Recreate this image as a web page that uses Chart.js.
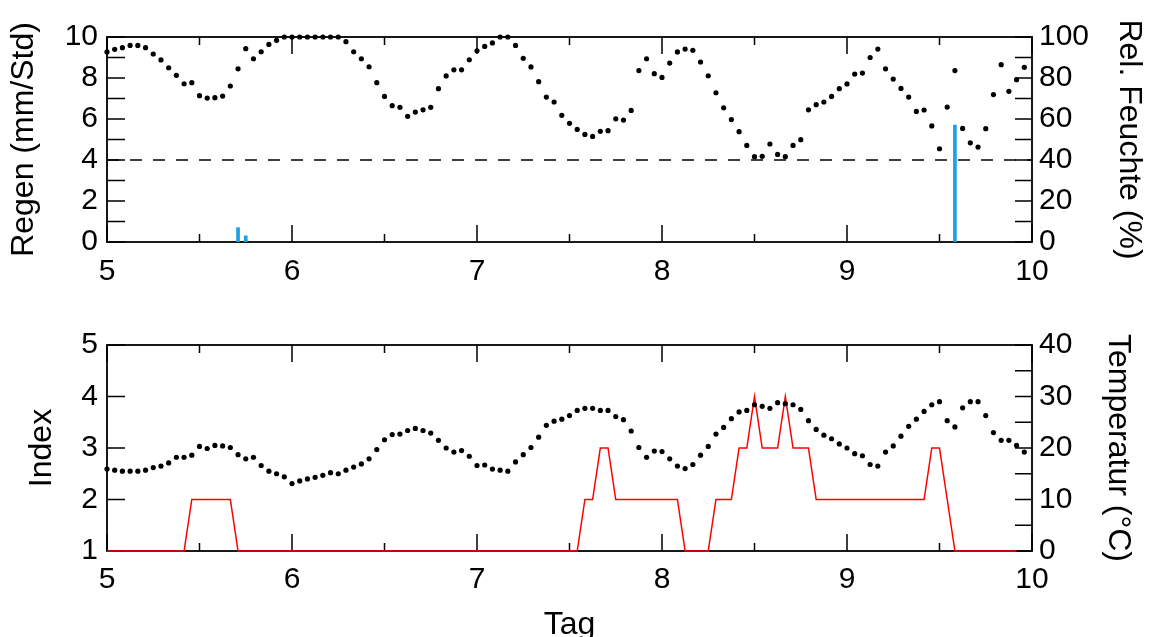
<!DOCTYPE html>
<html><head><meta charset="utf-8">
<script src="https://cdn.jsdelivr.net/npm/chart.js@4/dist/chart.umd.min.js"></script>
<style>
html,body{margin:0;padding:0;background:#fff;overflow:hidden;}
#wrap{position:relative;width:1152px;height:637px;}
.c{position:absolute;left:0;width:1152px;}
</style></head><body>
<div id="wrap">
<div class="c" style="top:0;height:300px"><canvas id="topChart"></canvas></div>
<div class="c" style="top:300px;height:337px"><canvas id="botChart"></canvas></div>
</div>
<script>
// ---- data (hourly values starting at day 5) ----
const startDay = 5;
const hoursPerDay = 24;

const humidity = [
  92.7, 94.0, 94.8, 95.9, 95.9, 94.8, 91.7, 88.8, 85.0, 81.3, 77.2, 77.7,
  71.4, 70.2, 70.4, 71.2, 76.1, 84.5, 94.3, 89.4, 92.8, 96.4, 98.4, 100,
  100, 100, 100, 100, 100, 100, 100, 97.7, 92.8, 89.4, 85.5, 77.7,
  71.0, 66.5, 65.7, 61.3, 63.4, 64.5, 65.7, 74.8, 81.0, 84.0, 84.0, 88.9,
  93.3, 95.4, 97.1, 100, 100, 95.9, 89.6, 85.4, 78.2, 70.7, 68.3, 61.8,
  57.9, 54.9, 52.5, 51.5, 54.0, 54.3, 60.1, 59.5, 64.2, 83.6, 89.4, 82.1,
  80.3, 87.3, 92.7, 94.1, 93.5, 87.8, 81.1, 72.8, 65.5, 59.7, 53.8, 47.1,
  41.6, 41.8, 47.8, 42.7, 41.6, 47.1, 49.9, 64.5, 67.0, 68.3, 71.0, 74.8,
  77.1, 81.9, 82.4, 90.0, 94.1, 84.5, 79.5, 74.9, 70.7, 63.7, 64.4, 56.6,
  45.5, 65.8, 83.6, 55.4, 48.4, 46.3, 55.3, 71.9, 86.5, 73.5, 79.2, 85.2
];

const temperature = [
  15.9, 15.7, 15.5, 15.5, 15.5, 15.7, 16.2, 16.5, 17.1, 18.2, 18.2, 18.6,
  20.3, 19.9, 20.5, 20.4, 20.1, 18.7, 17.9, 18.2, 16.6, 15.5, 15.0, 14.4,
  13.1, 13.6, 14.0, 14.3, 14.7, 15.2, 15.0, 15.7, 16.3, 16.9, 17.9, 19.7,
  21.6, 22.6, 22.7, 23.4, 23.8, 23.4, 22.9, 21.5, 20.0, 19.2, 19.5, 18.4,
  16.6, 16.7, 15.9, 15.7, 15.5, 17.3, 18.7, 20.1, 22.1, 24.4, 25.2, 25.6,
  26.3, 27.3, 27.7, 27.7, 27.3, 27.3, 26.1, 25.5, 23.3, 20.1, 18.2, 19.4,
  19.3, 17.9, 16.5, 16.0, 16.8, 18.6, 20.3, 22.7, 24.0, 25.7, 27.0, 27.3,
  28.4, 28.1, 27.7, 28.8, 28.6, 28.4, 27.5, 25.3, 23.6, 22.5, 21.8, 20.8,
  20.0, 18.9, 18.5, 16.8, 16.5, 19.2, 20.4, 22.3, 24.2, 25.6, 27.1, 28.4,
  29.0, 25.3, 24.1, 27.8, 29.0, 29.0, 26.3, 23.0, 21.5, 21.5, 20.5, 19.2
];

const indexValues = [
  1, 1, 1, 1, 1, 1, 1, 1, 1, 1, 1, 2,
  2, 2, 2, 2, 2, 1, 1, 1, 1, 1, 1, 1,
  1, 1, 1, 1, 1, 1, 1, 1, 1, 1, 1, 1,
  1, 1, 1, 1, 1, 1, 1, 1, 1, 1, 1, 1,
  1, 1, 1, 1, 1, 1, 1, 1, 1, 1, 1, 1,
  1, 1, 2, 2, 3, 3, 2, 2, 2, 2, 2, 2,
  2, 2, 2, 1, 1, 1, 1, 2, 2, 2, 3, 3,
  4, 3, 3, 3, 4, 3, 3, 3, 2, 2, 2, 2,
  2, 2, 2, 2, 2, 2, 2, 2, 2, 2, 2, 3,
  3, 2, 1, 1, 1, 1, 1, 1, 1, 1, 1
];

const rainHours = [17, 18, 110];
const rainValues = [0.7, 0.3, 5.7];
const rainThreshold = 4;

const xMajorTicks = [5, 6, 7, 8, 9, 10];
const xMinorTicks = [5.5, 6.5, 7.5, 8.5, 9.5];
const rainTicks = [0, 1, 2, 3, 4, 5, 6, 7, 8, 9, 10];
const humidityTicks = [0, 10, 20, 30, 40, 50, 60, 70, 80, 90, 100];
const indexTicks = [1, 2, 3, 4, 5];
const tempTicks = [0, 5, 10, 15, 20, 25, 30, 35, 40];

// ---- helpers ----
const toPoints = arr => arr.map((v, i) => ({x: startDay + i / hoursPerDay, y: v}));

Chart.defaults.font.family = '"Liberation Sans", Arial, sans-serif';
Chart.defaults.font.size = 30;
Chart.defaults.color = '#000';

const frameTicks = {
  id: 'frameTicks',
  beforeDatasetsDraw(chart, args, o) {
    const {ctx, chartArea: a} = chart;
    const xs = chart.scales.x, yl = chart.scales.y, yr = chart.scales.y2;
    ctx.save();
    ctx.strokeStyle = '#000';
    ctx.lineWidth = 1.5;
    ctx.beginPath();
    const seg = (x1, y1, x2, y2) => { ctx.moveTo(x1, y1); ctx.lineTo(x2, y2); };
    o.xMajor.forEach(v => { const p = xs.getPixelForValue(v); seg(p, a.bottom, p, a.bottom - 17); seg(p, a.top, p, a.top + 17); });
    o.xMinor.forEach(v => { const p = xs.getPixelForValue(v); seg(p, a.bottom, p, a.bottom - 8); seg(p, a.top, p, a.top + 8); });
    o.left.forEach(v => { const p = yl.getPixelForValue(v); seg(a.left, p, a.left + 18, p); });
    o.right.forEach(v => { const p = yr.getPixelForValue(v); seg(a.right, p, a.right - 17, p); });
    ctx.stroke();
    ctx.lineWidth = 1.8;
    ctx.strokeRect(a.left, a.top, a.right - a.left, a.bottom - a.top);
    ctx.restore();
  }
};

function xScale(height, pad) {
  return {
    type: 'linear', position: 'bottom', min: 5, max: 10, offset: false,
    grid: {display: false, drawTicks: false, offset: false}, border: {display: false},
    ticks: {stepSize: 1, padding: pad, autoSkip: false, maxRotation: 0},
    afterFit: s => { s.height = height; }
  };
}
function yScale(pos, min, max, step, width, pad, title, tpad) {
  return {
    type: 'linear', position: pos, min, max,
    grid: {display: false, drawTicks: false}, border: {display: false},
    ticks: {stepSize: step, padding: pad},
    title: {display: true, text: title, font: {size: 32, lineHeight: 1}, padding: {top: tpad, bottom: 0}},
    afterFit: s => { s.width = width; }
  };
}

const common = {
  responsive: true, maintainAspectRatio: false, animation: false, events: [],
  plugins: {legend: {display: false}, tooltip: {enabled: false}}
};

// ---- top chart ----
new Chart(document.getElementById('topChart'), {
  type: 'scatter',
  data: {
    datasets: [
      {
        type: 'bar', label: 'Regen', yAxisID: 'y',
        data: rainHours.map((h, i) => ({x: startDay + h / hoursPerDay, y: rainValues[i]})),
        backgroundColor: '#1aa0e3', barThickness: 3, grouped: false, order: 3
      },
      {
        type: 'line', label: 'Schwelle', yAxisID: 'y',
        data: [{x: 5, y: rainThreshold}, {x: 10, y: rainThreshold}],
        borderColor: '#000', borderWidth: 1.6, borderDash: [12, 11], pointRadius: 0, order: 2
      },
      {
        label: 'Rel. Feuchte', yAxisID: 'y2', data: toPoints(humidity),
        pointRadius: 2.6, pointBackgroundColor: '#000', pointBorderWidth: 0, clip: false, order: 1
      }
    ]
  },
  options: Object.assign({}, common, {
    layout: {padding: {top: 37, left: 0, right: 0, bottom: 0}},
    scales: {
      x: xScale(58, 12),
      y: yScale('left', 0, 10, 2, 107, 9, 'Regen (mm/Std)', 8),
      y2: yScale('right', 0, 100, 20, 120, 7, 'Rel. Feuchte (%)', 7)
    },
    plugins: Object.assign({}, common.plugins, {
      frameTicks: {xMajor: xMajorTicks, xMinor: xMinorTicks, left: rainTicks, right: humidityTicks}
    })
  }),
  plugins: [frameTicks]
});

// ---- bottom chart ----
const botX = xScale(86, 11);
botX.title = {display: true, text: 'Tag', font: {size: 32, lineHeight: 1}, padding: {top: 0, bottom: -4}};

new Chart(document.getElementById('botChart'), {
  type: 'scatter',
  data: {
    datasets: [
      {
        type: 'line', label: 'Index', yAxisID: 'y', data: toPoints(indexValues),
        borderColor: '#ff0000', borderWidth: 1.5, pointRadius: 0, clip: false, order: 2
      },
      {
        label: 'Temperatur', yAxisID: 'y2', data: toPoints(temperature),
        pointRadius: 2.6, pointBackgroundColor: '#000', pointBorderWidth: 0, clip: false, order: 1
      }
    ]
  },
  options: Object.assign({}, common, {
    layout: {padding: {top: 45, left: 0, right: 0, bottom: 0}},
    scales: {
      x: botX,
      y: yScale('left', 1, 5, 1, 107, 9, 'Index', 26),
      y2: yScale('right', 0, 40, 10, 120, 7, 'Temperatur (°C)', 18)
    },
    plugins: Object.assign({}, common.plugins, {
      frameTicks: {xMajor: xMajorTicks, xMinor: xMinorTicks, left: indexTicks, right: tempTicks}
    })
  }),
  plugins: [frameTicks]
});
</script>
</body></html>
